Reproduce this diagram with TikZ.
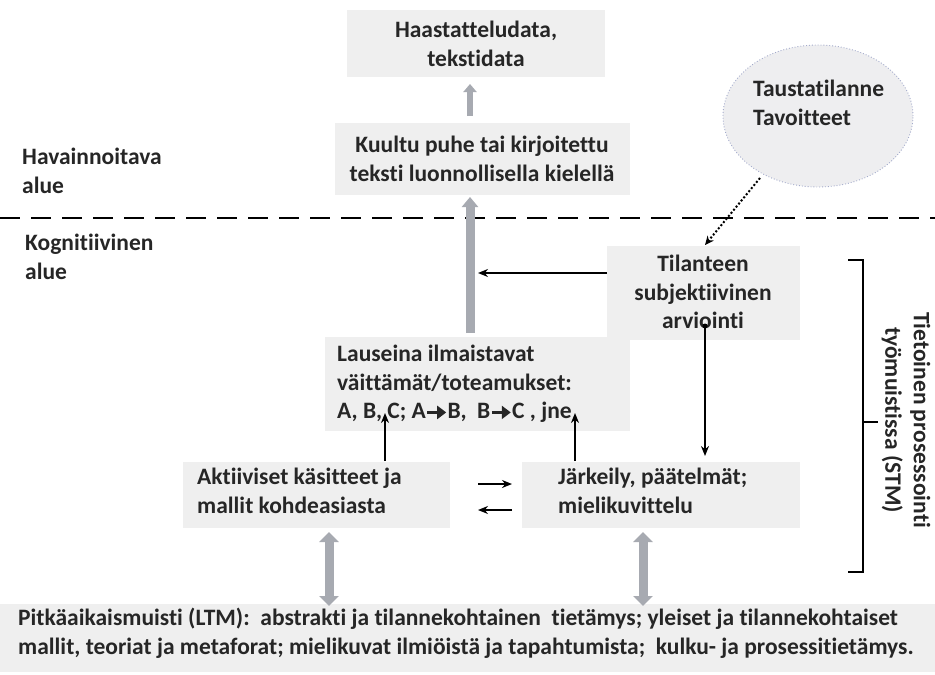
\documentclass[tikz,border=0pt]{standalone}
\usepackage{fontspec}
\setmainfont{Carlito}[Ligatures={NoCommon}]
\usetikzlibrary{arrows.meta,shapes.geometric}
\definecolor{boxgray}{HTML}{EFEFEF}
\definecolor{arrowgray}{HTML}{A7AAB1}
\definecolor{dotblue}{HTML}{A3AACB}
\definecolor{ellgray}{HTML}{EEEEF0}
\newcommand{\bigarr}{\tikz[baseline=-0.55ex]\draw[line width=2.8pt,-{Triangle[length=9pt,width=13pt]}] (0,0) -- (19pt,0);}
\begin{document}
\begin{tikzpicture}[x=1pt,y=-1pt,
  every node/.style={font=\bfseries\fontsize{23.5}{28.5}\selectfont, text=black!85},
  panel/.style={fill=boxgray, draw=none, inner sep=0pt, anchor=north west},
  txt/.style={align=left, anchor=north west, inner sep=0pt},
  ctext/.style={align=center, inner sep=0pt},
  flow/.style={-{Stealth[length=10pt,width=8pt]}, line width=1.7pt, black},
  bigup/.style={-{Triangle[length=10pt,width=16pt]}, line width=9pt, arrowgray},
  bothway/.style={{Triangle[length=10pt,width=19pt]}-{Triangle[length=10pt,width=19pt]}, line width=9pt, arrowgray}
]
\useasboundingbox (0,0) rectangle (935,675);

% observable / cognitive regions
\draw[line width=2.6pt, dash pattern=on 20pt off 11pt] (0,218) -- (935,218);
\node[txt] (obs) at (22,148) {Havainnoitava\\alue};
\node[txt] (cog) at (25,234) {Kognitiivinen\\alue};

% upper boxes
\node[panel, minimum width=258pt, minimum height=67pt] (data) at (347,10) {};
\node[ctext] (datatxt) at (476,44) {Haastatteludata,\\tekstidata};
\node[panel, minimum width=295pt, minimum height=72pt] (speech) at (335,123) {};
\node[ctext] (speechtxt) at (482,159) {Kuultu puhe tai kirjoitettu\\teksti luonnollisella kielellä};

% background situation
\node[ellipse, fill=ellgray, draw=dotblue, dotted, line width=0.9pt,
      minimum width=190pt, minimum height=142pt] (bg) at (818,116) {};
\node[txt] (bgtxt) at (753,80) {Taustatilanne\\Tavoitteet};

% working memory boxes
\node[panel, minimum width=193pt, minimum height=94pt] (eval) at (607,246) {};
\node[ctext] (evaltxt) at (703,292) {Tilanteen\\subjektiivinen\\arviointi};
\node[panel, minimum width=305pt, minimum height=94pt] (props) at (325,337) {};
\node[txt] (propstxt) at (337,345) {Lauseina ilmaistavat\\väittämät/toteamukset:\\A, B, C; A\bigarr B,\ \ B\bigarr C , jne};
\node[panel, minimum width=267pt, minimum height=66pt] (concepts) at (183,462) {};
\node[txt] (conceptstxt) at (197,468) {Aktiiviset käsitteet ja\\mallit kohdeasiasta};
\node[panel, minimum width=278pt, minimum height=66pt] (reason) at (522,462) {};
\node[txt] (reasontxt) at (558,468) {Järkeily, päätelmät;\\mielikuvittelu};

% long-term memory
\node[panel, minimum width=935pt, minimum height=68pt] (ltm) at (0,604) {};
\node[txt] (ltmtxt) at (18,608) {Pitkäaikaismuisti (LTM):\ \ abstrakti ja tilannekohtainen\ \ tietämys; yleiset ja tilannekohtaiset\\mallit, teoriat ja metaforat; mielikuvat ilmiöistä ja tapahtumista;\ \ kulku- ja prosessitietämys.};

% gray block arrows
\coordinate (g1) at (470,116);
\coordinate (g2) at (470,84);
\draw[bigup, line width=6pt, -{Triangle[length=8pt,width=13pt]}] (g1) -- (g2);
\coordinate (g3) at (470,333);
\coordinate (g4) at (470,197);
\draw[bigup] (g3) -- (g4);
\coordinate (d1) at (329,532);
\coordinate (d2) at (329,606);
\draw[bothway] (d1) -- (d2);
\coordinate (d3) at (643,532);
\coordinate (d4) at (643,606);
\draw[bothway] (d3) -- (d4);

% black connectors
\coordinate (evalL) at (607,273);
\coordinate (evalTo) at (478,273);
\draw[flow] (evalL) -- (evalTo);
\coordinate (evalS) at (705,326);
\coordinate (evalE) at (705,456);
\fill (evalS) circle (2.5pt);
\draw[flow] (evalS) -- (evalE);
\coordinate (cU1) at (385,461);
\coordinate (cU2) at (385,413);
\draw[flow] (cU1) -- (cU2);
\coordinate (rU1) at (575,461);
\coordinate (rU2) at (575,413);
\draw[flow] (rU1) -- (rU2);
\coordinate (h1) at (478,484);
\coordinate (h2) at (512,484);
\draw[flow] (h1) -- (h2);
\coordinate (h3) at (512,510);
\coordinate (h4) at (478,510);
\draw[flow] (h3) -- (h4);

% background -> evaluation
\coordinate (bgS) at (760,178);
\coordinate (bgE) at (705,245);
\draw[line width=2pt, dotted, -{Stealth[length=9pt,width=8pt]}] (bgS) -- (bgE);

% working-memory bracket
\coordinate (bt) at (848,260);
\coordinate (bb) at (848,572);
\draw[line width=1.5pt] (bt) -- (863,260) -- (863,572) -- (bb);
\coordinate (bm) at (863,422);
\coordinate (bm2) at (878,422);
\draw[line width=1.5pt] (bm) -- (bm2);
\node[ctext, rotate=-90] (stm) at (906,420) {Tietoinen prosessointi\\työmuistissa (STM)};
\end{tikzpicture}
\end{document}
